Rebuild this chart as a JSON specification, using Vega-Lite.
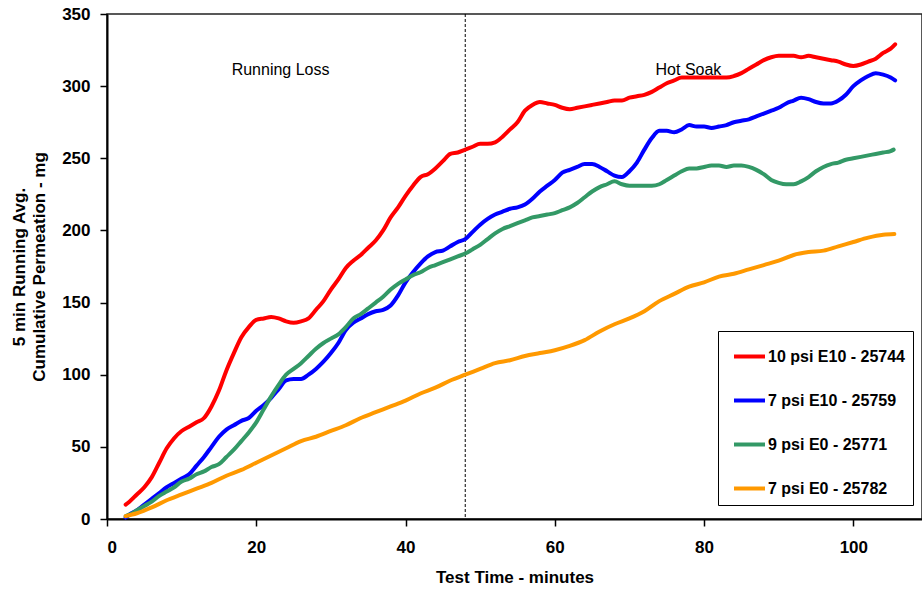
{
"$schema": "https://vega.github.io/schema/vega-lite/v6.json",
"width": 815,
"height": 505,
"autosize": {"type": "none"},
"padding": {"left": 107, "top": 14, "right": 0, "bottom": 72},
"background": "white",
"config": {
  "font": "Liberation Sans",
  "view": {"stroke": "#222", "strokeWidth": 1.5},
  "axis": {"grid": false, "domainColor": "black", "domainWidth": 2, "tickColor": "black", "tickWidth": 1.5, "tickSize": 7, "labelFont": "Liberation Sans", "labelFontSize": 17, "labelFontWeight": "bold", "labelColor": "black", "titleFont": "Liberation Sans", "titleFontSize": 17, "titleFontWeight": "bold", "titleColor": "black"}
},
"datasets": {
  "red": [{"t":2.5,"v":10},{"t":3,"v":12},{"t":4,"v":17},{"t":5,"v":22},{"t":6,"v":29},{"t":7,"v":39},{"t":8,"v":49},{"t":9,"v":56},{"t":10,"v":61},{"t":11,"v":64},{"t":12,"v":67},{"t":13,"v":70},{"t":14,"v":78},{"t":15,"v":89},{"t":16,"v":103},{"t":17,"v":115},{"t":18,"v":126},{"t":19,"v":133},{"t":20,"v":138},{"t":21,"v":139},{"t":22,"v":140},{"t":23,"v":139},{"t":24,"v":137},{"t":25,"v":136},{"t":26,"v":137},{"t":27,"v":139},{"t":28,"v":145},{"t":29,"v":151},{"t":30,"v":159},{"t":31,"v":166},{"t":32,"v":174},{"t":33,"v":179},{"t":34,"v":183},{"t":35,"v":188},{"t":36,"v":193},{"t":37,"v":200},{"t":38,"v":209},{"t":39,"v":216},{"t":40,"v":224},{"t":41,"v":231},{"t":42,"v":237},{"t":43,"v":239},{"t":44,"v":243},{"t":45,"v":248},{"t":46,"v":253},{"t":47,"v":254},{"t":48,"v":256},{"t":49,"v":258},{"t":50,"v":260},{"t":51,"v":260},{"t":52,"v":261},{"t":53,"v":265},{"t":54,"v":270},{"t":55,"v":275},{"t":56,"v":283},{"t":57,"v":287},{"t":58,"v":289},{"t":59,"v":288},{"t":60,"v":287},{"t":61,"v":285},{"t":62,"v":284},{"t":63,"v":285},{"t":64,"v":286},{"t":65,"v":287},{"t":66,"v":288},{"t":67,"v":289},{"t":68,"v":290},{"t":69,"v":290},{"t":70,"v":292},{"t":71,"v":293},{"t":72,"v":294},{"t":73,"v":296},{"t":74,"v":299},{"t":75,"v":302},{"t":76,"v":304},{"t":77,"v":306},{"t":78,"v":306},{"t":79,"v":306},{"t":80,"v":306},{"t":81,"v":306},{"t":82,"v":306},{"t":83,"v":306},{"t":84,"v":307},{"t":85,"v":309},{"t":86,"v":312},{"t":87,"v":315},{"t":88,"v":318},{"t":89,"v":320},{"t":90,"v":321},{"t":91,"v":321},{"t":92,"v":321},{"t":93,"v":320},{"t":94,"v":321},{"t":95,"v":320},{"t":96,"v":319},{"t":97,"v":318},{"t":98,"v":317},{"t":99,"v":315},{"t":100,"v":314},{"t":101,"v":315},{"t":102,"v":317},{"t":103,"v":319},{"t":104,"v":323},{"t":105,"v":326},{"t":105.6,"v":329}],
  "blue": [{"t":2.5,"v":1},{"t":3,"v":3},{"t":4,"v":6},{"t":5,"v":10},{"t":6,"v":14},{"t":7,"v":18},{"t":8,"v":22},{"t":9,"v":25},{"t":10,"v":28},{"t":11,"v":31},{"t":12,"v":37},{"t":13,"v":43},{"t":14,"v":50},{"t":15,"v":57},{"t":16,"v":62},{"t":17,"v":65},{"t":18,"v":68},{"t":19,"v":70},{"t":20,"v":75},{"t":21,"v":79},{"t":22,"v":84},{"t":23,"v":90},{"t":24,"v":96},{"t":25,"v":97},{"t":26,"v":97},{"t":27,"v":100},{"t":28,"v":104},{"t":29,"v":109},{"t":30,"v":115},{"t":31,"v":122},{"t":32,"v":131},{"t":33,"v":136},{"t":34,"v":139},{"t":35,"v":142},{"t":36,"v":144},{"t":37,"v":145},{"t":38,"v":148},{"t":39,"v":155},{"t":40,"v":164},{"t":41,"v":171},{"t":42,"v":177},{"t":43,"v":182},{"t":44,"v":185},{"t":45,"v":186},{"t":46,"v":189},{"t":47,"v":192},{"t":48,"v":194},{"t":49,"v":199},{"t":50,"v":204},{"t":51,"v":208},{"t":52,"v":211},{"t":53,"v":213},{"t":54,"v":215},{"t":55,"v":216},{"t":56,"v":218},{"t":57,"v":222},{"t":58,"v":227},{"t":59,"v":231},{"t":60,"v":235},{"t":61,"v":240},{"t":62,"v":242},{"t":63,"v":244},{"t":64,"v":246},{"t":65,"v":246},{"t":66,"v":244},{"t":67,"v":241},{"t":68,"v":238},{"t":69,"v":237},{"t":70,"v":241},{"t":71,"v":247},{"t":72,"v":256},{"t":73,"v":264},{"t":74,"v":269},{"t":75,"v":269},{"t":76,"v":268},{"t":77,"v":270},{"t":78,"v":273},{"t":79,"v":272},{"t":80,"v":272},{"t":81,"v":271},{"t":82,"v":272},{"t":83,"v":273},{"t":84,"v":275},{"t":85,"v":276},{"t":86,"v":277},{"t":87,"v":279},{"t":88,"v":281},{"t":89,"v":283},{"t":90,"v":285},{"t":91,"v":288},{"t":92,"v":290},{"t":93,"v":292},{"t":94,"v":291},{"t":95,"v":289},{"t":96,"v":288},{"t":97,"v":288},{"t":98,"v":290},{"t":99,"v":294},{"t":100,"v":300},{"t":101,"v":304},{"t":102,"v":307},{"t":103,"v":309},{"t":104,"v":308},{"t":105,"v":306},{"t":105.6,"v":304}],
  "green": [{"t":2.5,"v":2},{"t":3,"v":3},{"t":4,"v":6},{"t":5,"v":9},{"t":6,"v":12},{"t":7,"v":16},{"t":8,"v":19},{"t":9,"v":22},{"t":10,"v":26},{"t":11,"v":28},{"t":12,"v":31},{"t":13,"v":33},{"t":14,"v":36},{"t":15,"v":38},{"t":16,"v":43},{"t":17,"v":48},{"t":18,"v":54},{"t":19,"v":60},{"t":20,"v":67},{"t":21,"v":76},{"t":22,"v":85},{"t":23,"v":93},{"t":24,"v":100},{"t":25,"v":104},{"t":26,"v":108},{"t":27,"v":113},{"t":28,"v":118},{"t":29,"v":122},{"t":30,"v":125},{"t":31,"v":128},{"t":32,"v":133},{"t":33,"v":139},{"t":34,"v":142},{"t":35,"v":146},{"t":36,"v":150},{"t":37,"v":154},{"t":38,"v":159},{"t":39,"v":163},{"t":40,"v":166},{"t":41,"v":169},{"t":42,"v":171},{"t":43,"v":174},{"t":44,"v":176},{"t":45,"v":178},{"t":46,"v":180},{"t":47,"v":182},{"t":48,"v":184},{"t":49,"v":187},{"t":50,"v":190},{"t":51,"v":194},{"t":52,"v":198},{"t":53,"v":201},{"t":54,"v":203},{"t":55,"v":205},{"t":56,"v":207},{"t":57,"v":209},{"t":58,"v":210},{"t":59,"v":211},{"t":60,"v":212},{"t":61,"v":214},{"t":62,"v":216},{"t":63,"v":219},{"t":64,"v":223},{"t":65,"v":227},{"t":66,"v":230},{"t":67,"v":232},{"t":68,"v":234},{"t":69,"v":232},{"t":70,"v":231},{"t":71,"v":231},{"t":72,"v":231},{"t":73,"v":231},{"t":74,"v":232},{"t":75,"v":235},{"t":76,"v":238},{"t":77,"v":241},{"t":78,"v":243},{"t":79,"v":243},{"t":80,"v":244},{"t":81,"v":245},{"t":82,"v":245},{"t":83,"v":244},{"t":84,"v":245},{"t":85,"v":245},{"t":86,"v":244},{"t":87,"v":242},{"t":88,"v":239},{"t":89,"v":235},{"t":90,"v":233},{"t":91,"v":232},{"t":92,"v":232},{"t":93,"v":234},{"t":94,"v":237},{"t":95,"v":241},{"t":96,"v":244},{"t":97,"v":246},{"t":98,"v":247},{"t":99,"v":249},{"t":100,"v":250},{"t":101,"v":251},{"t":102,"v":252},{"t":103,"v":253},{"t":104,"v":254},{"t":105,"v":255},{"t":105.4,"v":256}],
  "orange": [{"t":2.5,"v":2},{"t":4,"v":4},{"t":6,"v":8},{"t":8,"v":13},{"t":10,"v":17},{"t":12,"v":21},{"t":14,"v":25},{"t":16,"v":30},{"t":18,"v":34},{"t":20,"v":39},{"t":22,"v":44},{"t":24,"v":49},{"t":26,"v":54},{"t":28,"v":57},{"t":30,"v":61},{"t":32,"v":65},{"t":34,"v":70},{"t":36,"v":74},{"t":38,"v":78},{"t":40,"v":82},{"t":42,"v":87},{"t":44,"v":91},{"t":46,"v":96},{"t":48,"v":100},{"t":50,"v":104},{"t":52,"v":108},{"t":54,"v":110},{"t":56,"v":113},{"t":58,"v":115},{"t":60,"v":117},{"t":62,"v":120},{"t":64,"v":124},{"t":66,"v":130},{"t":68,"v":135},{"t":70,"v":139},{"t":72,"v":144},{"t":74,"v":151},{"t":76,"v":156},{"t":78,"v":161},{"t":80,"v":164},{"t":82,"v":168},{"t":84,"v":170},{"t":86,"v":173},{"t":88,"v":176},{"t":90,"v":179},{"t":92,"v":183},{"t":94,"v":185},{"t":96,"v":186},{"t":98,"v":189},{"t":100,"v":192},{"t":102,"v":195},{"t":104,"v":197},{"t":105.5,"v":197.5}],
  "phase": [{"t":48}],
  "notes": [{"t":16.7,"v":308,"label":"Running Loss"},{"t":73.5,"v":308,"label":"Hot Soak"}]
},
"encoding": {
  "x": {"field": "t", "type": "quantitative", "scale": {"domain": [0, 109.2], "nice": false, "zero": false},
        "axis": {"values": [0, 20, 40, 60, 80, 100], "title": "Test Time - minutes", "labelPadding": 13, "titlePadding": 14}},
  "y": {"field": "v", "type": "quantitative", "scale": {"domain": [0, 350], "nice": false},
        "axis": {"values": [0, 50, 100, 150, 200, 250, 300, 350], "title": ["5 min Running Avg.", "Cumulative Permeation - mg"], "labelPadding": 10, "titlePadding": 13, "titleLineHeight": 20}}
},
"layer": [
  {"data": {"name": "phase"}, "mark": {"type": "rule", "color": "black", "strokeWidth": 1, "strokeDash": [3, 2]}, "encoding": {"y": {"value": 0}, "y2": {"value": 505}}},
  {"data": {"name": "red"}, "mark": {"type": "line", "strokeWidth": 4, "interpolate": "monotone", "strokeCap": "round"},
   "encoding": {"color": {"datum": "10 psi E10 - 25744", "type": "nominal",
     "scale": {"domain": ["10 psi E10 - 25744", "7 psi E10 - 25759", "9 psi E0 - 25771", "7 psi E0 - 25782"], "range": ["#FF0000", "#0000FF", "#339966", "#FF9900"]},
     "legend": {"title": null, "orient": "none", "legendX": 611, "legendY": 317, "strokeColor": "black", "fillColor": "white", "padding": 8, "symbolType": "stroke", "symbolSize": 961, "symbolStrokeWidth": 4, "symbolOffset": 6, "labelOffset": 1, "labelFont": "Liberation Sans", "labelFontSize": 16, "labelFontWeight": "bold", "labelColor": "black", "rowPadding": 18, "labelLimit": 300}}}},
  {"data": {"name": "blue"}, "mark": {"type": "line", "strokeWidth": 4, "interpolate": "monotone", "strokeCap": "round"},
   "encoding": {"color": {"datum": "7 psi E10 - 25759", "type": "nominal"}}},
  {"data": {"name": "green"}, "mark": {"type": "line", "strokeWidth": 4, "interpolate": "monotone", "strokeCap": "round"},
   "encoding": {"color": {"datum": "9 psi E0 - 25771", "type": "nominal"}}},
  {"data": {"name": "orange"}, "mark": {"type": "line", "strokeWidth": 4, "interpolate": "monotone", "strokeCap": "round"},
   "encoding": {"color": {"datum": "7 psi E0 - 25782", "type": "nominal"}}},
  {"data": {"name": "notes"}, "mark": {"type": "text", "align": "left", "baseline": "alphabetic", "fontSize": 16, "font": "Liberation Sans", "color": "black"},
   "encoding": {"text": {"field": "label"}}}
]
}
